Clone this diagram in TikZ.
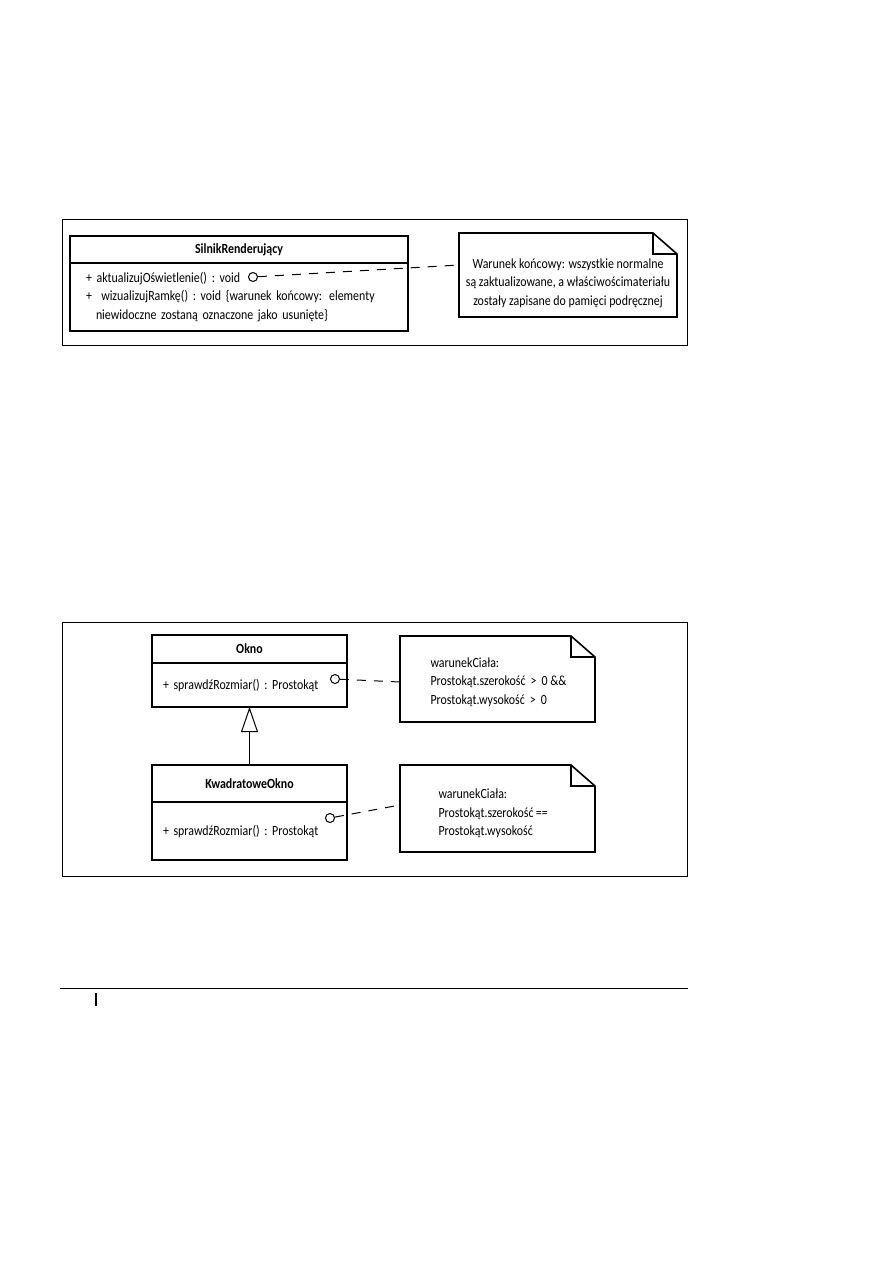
\documentclass[tikz,border=0pt]{standalone}
\usepackage{fontspec}
\setmainfont{Carlito}[FakeStretch=0.85]
\usetikzlibrary{arrows.meta,positioning}
\tikzset{
  every picture/.style={line width=1pt,font=\fontsize{14}{18.5}\selectfont},
  frm/.style={draw,line width=0.9pt},
  cls/.style={draw,line width=1.8pt,outer sep=0pt,inner sep=0pt},
  clsname/.style={cls,anchor=north west,font=\fontsize{14}{18.5}\selectfont\bfseries},
  clsbody/.style={cls,align=left},
  lolli/.style={circle,draw,line width=1pt,minimum size=9pt,inner sep=0pt},
  dep/.style={line width=1pt,dash pattern=on 9pt off 8pt},
  note/.style={anchor=north west,outer sep=0pt,inner sep=0pt},
  notetxt/.style={align=left,inner sep=0pt},
  inh/.style={-{Triangle[open,length=25pt,width=17pt]},line width=1pt},
}

\begin{document}
\begin{tikzpicture}[x=1pt,y=1pt]
  \useasboundingbox (0,0) rectangle (893,-1263);
  % upper figure
  \draw[frm] (62,-219) rectangle (687,-345);
  \node[clsname,minimum width=338,minimum height=27] (sr) at (70,-236) {SilnikRenderujący};
  \node[clsbody,below=0pt of sr,minimum width=338,minimum height=68,text width=306,inner xsep=16] (srb)
    {\mbox{+ aktualizujOświetlenie() :\ void}\\
     \mbox{+\ \ wizualizujRamkę() :\ void \{warunek końcowy: elementy}\\
     \mbox{\hspace*{10pt}niewidoczne zostaną oznaczone jako usunięte\}}};
  \node[lolli] (c1) at (253,-277) {};
  \node[note,minimum width=218,minimum height=84] (nt1) at (459,-233) {};
  \node[notetxt,align=center] (tx1) at ([yshift=-8pt]nt1.center)
    {Warunek końcowy: wszystkie normalne\\są zaktualizowane, a właściwościmateriału\\zostały zapisane do pamięci podręcznej};
  \draw[dep] (c1) -- ([yshift=10pt]nt1.west);

  % lower figure
  \draw[frm] (62,-622) rectangle (687,-876);
  \node[clsname,minimum width=195,minimum height=28] (ok) at (152,-635) {Okno};
  \node[clsbody,below=0pt of ok,minimum width=195,minimum height=44,text width=173,inner xsep=11] (okb)
    {\mbox{+ sprawdźRozmiar() :\ Prostokąt}};
  \node[clsname,minimum width=195,minimum height=37] (kw) at (152,-765) {KwadratoweOkno};
  \node[clsbody,below=0pt of kw,minimum width=195,minimum height=58,text width=173,inner xsep=11] (kwb)
    {\mbox{+ sprawdźRozmiar() :\ Prostokąt}};
  \draw[inh] (kw.north) -- (okb.south);
  \node[lolli] (c2) at (335,-679) {};
  \node[lolli] (c3) at (330,-818) {};
  \node[note,minimum width=195,minimum height=86] (nt2) at (400,-636) {};
  \node[note,minimum width=195,minimum height=87] (nt3) at (400,-765) {};
  \node[notetxt,right=30pt of {[yshift=-3pt]nt2.west}] (tx2)
    {warunekCiała:\\Prostokąt.szerokość \,>\, 0 \&\&\\Prostokąt.wysokość \,>\, 0};
  \node[notetxt,right=38pt of {[yshift=-5pt]nt3.west}] (tx3)
    {warunekCiała:\\Prostokąt.szerokość\,==\\Prostokąt.wysokość};
  \draw[dep] (c2) -- ([yshift=-3pt]nt2.west);
  \draw[dep] (c3) -- ([yshift=3.5pt]nt3.west);

  % dog-eared outlines of the notes
  \foreach \n in {nt1,nt2,nt3} {
    \draw[line width=1.6pt,line join=miter] (\n.north west) -- ([xshift=-24pt]\n.north east)
      -- ([yshift=-21pt]\n.north east) -- (\n.south east) -- (\n.south west) -- cycle;
    \draw[line width=1.6pt] ([xshift=-24pt]\n.north east) |- ([yshift=-21pt]\n.north east);
  }

  % page rule
  \draw[line width=1pt] (60,-988) -- (688,-988);
  \draw[line width=2pt] (96,-993) -- (96,-1006);
\end{tikzpicture}
\end{document}
